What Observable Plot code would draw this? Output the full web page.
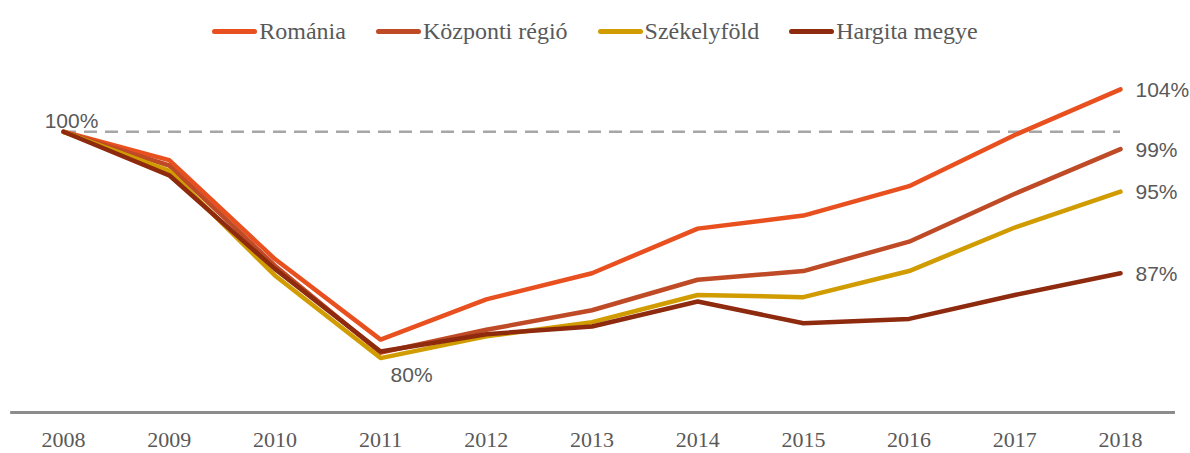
<!DOCTYPE html>
<html>
<head>
<meta charset="utf-8">
<script src="https://cdn.jsdelivr.net/npm/d3@7"></script>
<script src="https://cdn.jsdelivr.net/npm/@observablehq/plot@0.6"></script>
<style>
  html, body { margin: 0; padding: 0; background: #fff; }
  #wrap { width: 1190px; height: 453px; overflow: hidden; }
  #legend {
    height: 50px; box-sizing: border-box; padding-top: 14px;
    display: flex; justify-content: center; gap: 30px;
    font-family: "Liberation Serif", "Times New Roman", serif; font-size: 24px; color: #595959;
  }
  .item { display: flex; align-items: center; height: 34px; }
  .swatch { width: 45px; height: 5px; border-radius: 3px; margin-right: 2px; }
  #chart svg { display: block; overflow: visible; }
</style>
</head>
<body>
<div id="wrap">
  <div id="legend"></div>
  <div id="chart"></div>
</div>
<script>
const years = [2008, 2009, 2010, 2011, 2012, 2013, 2014, 2015, 2016, 2017, 2018];
const seriesNames = ["Románia", "Központi régió", "Székelyföld", "Hargita megye"];
const seriesColors = ["#E9501F", "#BF4A26", "#D09C00", "#8E2A0E"];
const romania   = [100, 97.4, 88.3, 80.9, 84.6, 87.0, 91.1, 92.3, 95.0, 99.7, 103.9];
const kozponti  = [100, 96.9, 87.7, 79.7, 81.8, 83.6, 86.4, 87.2, 89.9, 94.3, 98.4];
const szekely   = [100, 96.4, 86.8, 79.2, 81.2, 82.5, 85.0, 84.8, 87.2, 91.2, 94.5];
const hargita   = [100, 96.0, 87.4, 79.8, 81.4, 82.1, 84.4, 82.4, 82.8, 85.0, 87.0];
const endLabels = ["104%", "99%", "95%", "87%"];
const startLabel = "100%";
const minLabel = "80%";

const allValues = [romania, kozponti, szekely, hargita];
const data = [];
seriesNames.forEach((s, i) => years.forEach((y, j) => data.push({series: s, year: y, value: allValues[i][j]})));
const ends = seriesNames.map((s, i) => ({series: s, year: years[years.length - 1], value: allValues[i][years.length - 1], label: endLabels[i]}));

// legend
const legend = document.getElementById("legend");
seriesNames.forEach((s, i) => {
  const it = document.createElement("div");
  it.className = "item";
  const sw = document.createElement("span");
  sw.className = "swatch";
  sw.style.background = seriesColors[i];
  const tx = document.createElement("span");
  tx.textContent = s;
  it.appendChild(sw); it.appendChild(tx);
  legend.appendChild(it);
});

const sansFont = "'Liberation Sans', Arial, sans-serif";
const chart = Plot.plot({
  width: 1190,
  height: 403,
  marginLeft: 63,
  marginRight: 70,
  marginTop: 16,
  marginBottom: 41,
  x: {type: "linear", domain: [2008, 2018]},
  y: {domain: [74.2, 106], axis: null},
  color: {domain: seriesNames, range: seriesColors},
  marks: [
    Plot.ruleY([100], {x1: 2008, x2: 2018, stroke: "#A6A6A6", strokeWidth: 2.5, strokeDasharray: "13,8"}),
    Plot.ruleY([74.2], {x1: 2007.5, x2: 2018.52, stroke: "#8C8C8C", strokeWidth: 3}),
    Plot.axisX({ticks: years, tickFormat: d => String(d), tickSize: 0, tickPadding: 19,
      fontFamily: "'Liberation Serif', 'Times New Roman', serif", fontSize: 22, color: "#595959", label: null}),
    Plot.line(data, {x: "year", y: "value", z: "series", stroke: "series", strokeWidth: 4.5, strokeLinejoin: "round", strokeLinecap: "round"}),
    Plot.text([{year: years[0], value: 100}], {x: "year", y: "value", text: () => startLabel, dx: 8, dy: -11,
      fontFamily: sansFont, fontSize: 21, fill: "#595959"}),
    Plot.text([{year: 2011, value: 80}], {x: "year", y: "value", text: () => minLabel, dx: 31, dy: 26,
      fontFamily: sansFont, fontSize: 21, fill: "#595959"}),
    Plot.text(ends, {x: "year", y: "value", text: "label", dx: 15, dy: 1, textAnchor: "start",
      fontFamily: sansFont, fontSize: 21, fill: "#595959"})
  ]
});
document.getElementById("chart").appendChild(chart);
</script>
</body>
</html>
